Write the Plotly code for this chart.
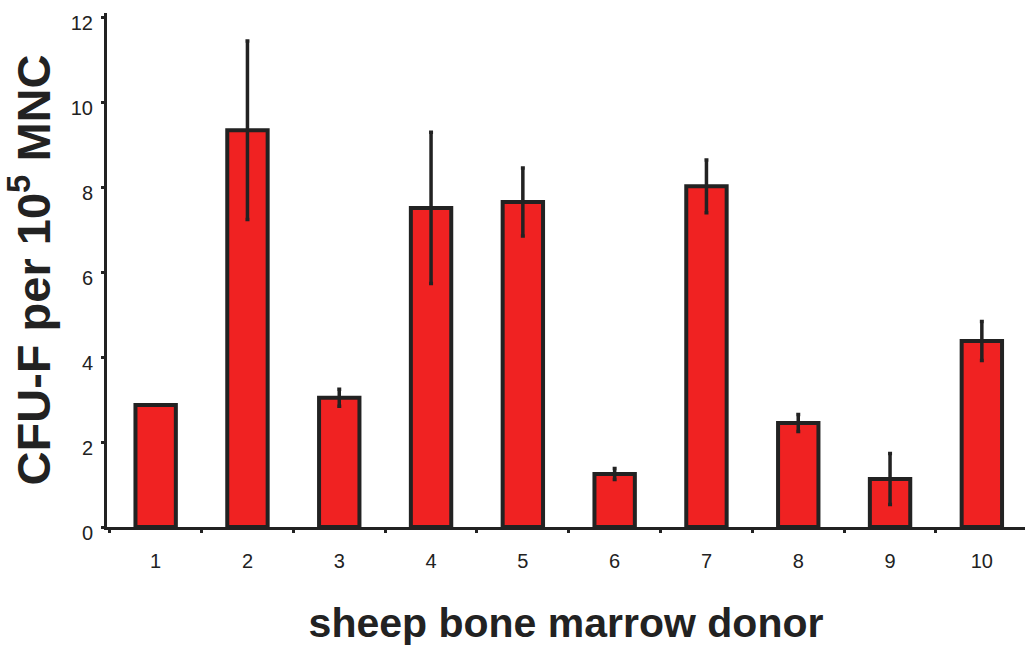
import plotly.graph_objects as go

donors = [1, 2, 3, 4, 5, 6, 7, 8, 9, 10]
tick_labels = ["1", "2", "3", "4", "5", "6", "7", "8", "9", "10"]
cfu_mean = [2.87, 9.34, 3.04, 7.51, 7.65, 1.25, 8.02, 2.45, 1.13, 4.38]
cfu_err = [0.0, 2.1, 0.2, 1.78, 0.8, 0.13, 0.62, 0.2, 0.6, 0.46]

fig = go.Figure()
fig.add_trace(go.Bar(
    x=donors, y=cfu_mean,
    width=0.44,
    marker=dict(color="#F02222", line=dict(color="#222222", width=4)),
    error_y=dict(type="data", array=cfu_err, visible=True,
                 color="#222222", thickness=3.5, width=2),
))

fig.update_layout(
    width=1025, height=650,
    margin=dict(l=107, r=0, t=13, b=123),
    paper_bgcolor="white", plot_bgcolor="white",
    showlegend=False,
    font=dict(family="Liberation Sans, Arial, sans-serif", color="#222222"),
)
fig.update_xaxes(
    range=[0.47, 10.47],
    tickvals=donors, ticktext=tick_labels,
    ticks="", ticklabelstandoff=14,
    tickfont=dict(size=20, color="#222222"),
    showline=True, linecolor="#222222", linewidth=3,
    showgrid=False, zeroline=False,
    minor=dict(tick0=0.5, dtick=1, ticks="outside", ticklen=3, tickwidth=3, tickcolor="#222222"),
    title=dict(text="<b>sheep bone marrow donor</b>", font=dict(size=41, color="#222222"), standoff=38),
)
fig.update_yaxes(
    range=[0, 12.1],
    tickvals=[0, 2, 4, 6, 8, 10, 12],
    ticks="outside", ticklen=3, tickwidth=3, tickcolor="#222222",
    ticklabelstandoff=4, ticklabelshift=6,
    tickfont=dict(size=20, color="#222222"),
    showline=True, linecolor="#222222", linewidth=3,
    showgrid=False, zeroline=False,
    title=dict(text="<b>CFU-F per 10<sup>5</sup> MNC</b>", font=dict(size=47, color="#222222"), standoff=8),
)

fig.write_html("out.html")
